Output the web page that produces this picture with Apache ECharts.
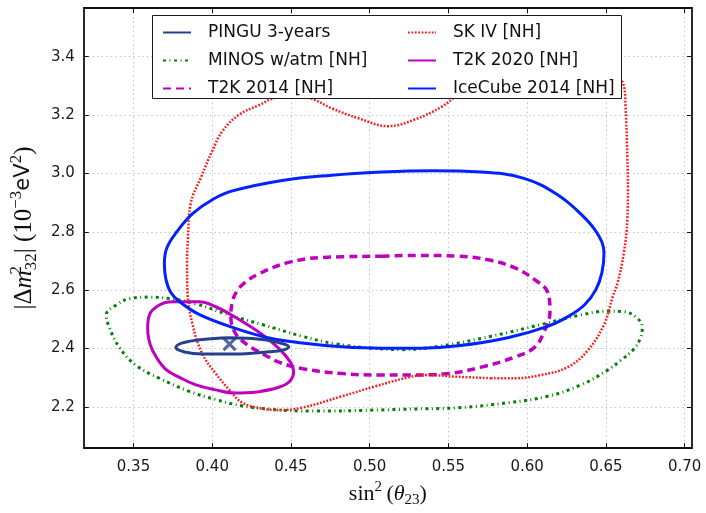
<!DOCTYPE html>
<html>
<head>
<meta charset="utf-8">
<script src="https://cdn.jsdelivr.net/npm/echarts@6/dist/echarts.min.js"></script>
<style>
  html, body { margin: 0; padding: 0; background: #fff; }
  #chart { width: 706px; height: 513px; }
</style>
</head>
<body>
<div id="chart"></div>
<script>
// Axis ranges and tick positions
const xRange = [0.3184, 0.7047];
const yRange = [2.0585, 3.567];
const xTicks = [0.35, 0.40, 0.45, 0.50, 0.55, 0.60, 0.65, 0.70];
const yTicks = [2.2, 2.4, 2.6, 2.8, 3.0, 3.2, 3.4];

// Allowed-region contours, [sin^2(theta23), |dm^2_32| (1e-3 eV^2)]
const pingu = [[0.4107,2.437],[0.4317,2.431],[0.4444,2.417],[0.4486,2.406],[0.4444,2.394],[0.436,2.389],[0.4149,2.381],[0.3938,2.381],[0.3824,2.388],[0.3769,2.403],[0.3812,2.419],[0.3938,2.431]];
const pinguBest = [[0.411, 2.415]];

const minos = [[0.4823,2.186],[0.457,2.186],[0.436,2.192],[0.4191,2.203],[0.4022,2.225],[0.3854,2.253],[0.3664,2.298],[0.3516,2.342],[0.3411,2.403],[0.3348,2.47],[0.3327,2.515],[0.339,2.549],[0.3475,2.571],[0.3601,2.576],[0.3728,2.571],[0.3896,2.553],[0.4107,2.515],[0.4317,2.482],[0.457,2.442],[0.4779,2.416],[0.5013,2.401],[0.5203,2.396],[0.5456,2.409],[0.5772,2.442],[0.6088,2.482],[0.6341,2.515],[0.6509,2.528],[0.6614,2.526],[0.6699,2.504],[0.6731,2.47],[0.672,2.437],[0.6678,2.398],[0.6594,2.359],[0.6509,2.325],[0.6341,2.275],[0.613,2.236],[0.5877,2.214],[0.5561,2.197],[0.5245,2.192]];

const t2k2014 = [[0.5076,2.716],[0.5287,2.719],[0.5561,2.716],[0.5751,2.704],[0.5919,2.677],[0.6045,2.637],[0.613,2.593],[0.6145,2.526],[0.6109,2.459],[0.6045,2.403],[0.5919,2.37],[0.5708,2.336],[0.5498,2.314],[0.5245,2.309],[0.5076,2.309],[0.4823,2.314],[0.457,2.331],[0.4423,2.353],[0.436,2.37],[0.4254,2.402],[0.4191,2.426],[0.414,2.459],[0.4118,2.509],[0.4128,2.56],[0.4155,2.595],[0.4205,2.625],[0.4297,2.656],[0.4486,2.695],[0.4697,2.712]];

const skIV = [[0.5772,2.298],[0.5561,2.303],[0.535,2.309],[0.5245,2.301],[0.5034,2.27],[0.4823,2.236],[0.457,2.197],[0.4423,2.189],[0.4317,2.194],[0.4191,2.214],[0.4107,2.259],[0.4022,2.314],[0.3938,2.381],[0.3875,2.482],[0.3843,2.593],[0.384,2.693],[0.3846,2.777],[0.3862,2.894],[0.3932,2.991],[0.4001,3.078],[0.4065,3.145],[0.417,3.201],[0.4297,3.234],[0.44,3.259],[0.4507,3.264],[0.4613,3.259],[0.476,3.223],[0.4929,3.189],[0.5119,3.162],[0.5287,3.185],[0.5456,3.228],[0.5561,3.268],[0.574,3.312],[0.6024,3.342],[0.6341,3.349],[0.6543,3.336],[0.6611,3.306],[0.6625,3.228],[0.6636,3.061],[0.664,2.951],[0.6636,2.838],[0.6614,2.727],[0.6575,2.626],[0.6543,2.576],[0.6488,2.482],[0.6383,2.392],[0.6257,2.336],[0.6088,2.309],[0.5919,2.298]];

const t2k2020 = [[0.4297,2.252],[0.4149,2.247],[0.4014,2.259],[0.3896,2.275],[0.3799,2.299],[0.3698,2.332],[0.3622,2.392],[0.3597,2.432],[0.359,2.47],[0.3601,2.515],[0.3664,2.549],[0.3748,2.56],[0.3917,2.56],[0.4022,2.543],[0.4149,2.506],[0.4317,2.448],[0.4431,2.396],[0.4501,2.349],[0.4517,2.319],[0.4491,2.287],[0.4423,2.267]];

const icecube = [[0.5076,3.005],[0.5392,3.009],[0.5708,3.005],[0.598,2.983],[0.6193,2.927],[0.6341,2.861],[0.6446,2.794],[0.6488,2.727],[0.6475,2.66],[0.6435,2.6],[0.6365,2.55],[0.6262,2.51],[0.613,2.476],[0.5877,2.437],[0.5561,2.409],[0.5329,2.401],[0.5076,2.401],[0.4823,2.406],[0.457,2.419],[0.4362,2.436],[0.4147,2.469],[0.3919,2.516],[0.3793,2.56],[0.3736,2.593],[0.3706,2.637],[0.3696,2.69],[0.3712,2.745],[0.3775,2.8],[0.3875,2.862],[0.4,2.91],[0.4128,2.94],[0.4444,2.976],[0.476,2.994]];

const legendLeft = ['PINGU 3-years', 'MINOS w/atm [NH]', 'T2K 2014 [NH]'];
const legendRight = ['SK IV [NH]', 'T2K 2020 [NH]', 'IceCube 2014 [NH]'];

// Close each contour so the line returns to its start
function closed(pts) { return pts.concat([pts[0]]); }

function contour(name, pts, color, width, dash, z) {
  return {
    type: 'line', name: name, data: closed(pts),
    symbol: 'none', smooth: 0.4, z: z, silent: true,
    lineStyle: { color: color, width: width, type: dash || 'solid', cap: 'butt', join: 'round' },
    itemStyle: { color: color }
  };
}

const tickFont = { fontFamily: 'DejaVu Sans', fontSize: 15, color: '#1a1a1a' };
const frameLine = { show: true, onZero: false, lineStyle: { color: '#111', width: 1.8 } };
const gridLine = { show: true, lineStyle: { color: '#c4c4c4', width: 1, type: [1.5, 3] } };

function axis(pos, range, ticks, withLabels, fmt, margin) {
  return {
    type: 'value', position: pos, min: range[0], max: range[1],
    axisLine: frameLine,
    axisTick: { show: true, inside: true, length: 5, customValues: ticks, lineStyle: { color: '#111', width: 1 } },
    axisLabel: withLabels
      ? Object.assign({ show: true, customValues: ticks, margin: margin, formatter: fmt }, tickFont)
      : { show: false },
    splitLine: withLabels ? gridLine : { show: false }
  };
}

const serif = 'Liberation Serif';
function mathStyles(size, lh) {
  const small = Math.round(size * 0.68);
  return {
    r:   { fontFamily: serif, fontSize: size, lineHeight: lh, verticalAlign: 'middle', color: '#111' },
    i:   { fontFamily: serif, fontSize: size, lineHeight: lh, verticalAlign: 'middle', fontStyle: 'italic', color: '#111' },
    s:   { fontFamily: 'DejaVu Sans', fontSize: Math.round(size * 0.85), lineHeight: lh, verticalAlign: 'middle', color: '#111' },
    sup: { fontFamily: serif, fontSize: small, lineHeight: small, verticalAlign: 'top', color: '#111' },
    supz:{ fontFamily: serif, fontSize: small, lineHeight: small, verticalAlign: 'top', color: '#111', width: 0.1 },
    sub: { fontFamily: serif, fontSize: small, lineHeight: small, verticalAlign: 'bottom', color: '#111' }
  };
}

const chart = echarts.init(document.getElementById('chart'), null, { renderer: 'canvas' });

const xMain = axis('bottom', xRange, xTicks, true, v => v.toFixed(2), 12);
xMain.name = '{r|sin}{sup|2}{r|\u2009(}{i|θ}{sub|23}{r|)}';
xMain.nameLocation = 'middle';
xMain.nameGap = 22;
xMain.nameTextStyle = { rich: mathStyles(22, 28) };

const yMain = axis('left', yRange, yTicks, true, v => v.toFixed(1), 9);
yMain.name = '{r||Δ}{i|m}{supz|2}{sub|32}{r|| (10}{sup|−3}{s|eV}{sup|2}{r|)}';
yMain.nameLocation = 'middle';
yMain.nameRotate = 90;
yMain.nameGap = 31;
yMain.nameTextStyle = { rich: mathStyles(25, 32) };

const legendCommon = {
  orient: 'vertical', top: 24, padding: 0, itemGap: 11,
  itemWidth: 28, itemHeight: 14, z: 20, selectedMode: false,
  itemStyle: { opacity: 0 },
  textStyle: { fontFamily: 'DejaVu Sans', fontSize: 17, color: '#111', padding: [0, 0, 0, 12] }
};

chart.setOption({
  animation: false,
  backgroundColor: '#fff',
  grid: { left: 81, right: 14, top: 8, bottom: 54, containLabel: false },
  xAxis: [xMain, axis('top', xRange, xTicks, false)],
  yAxis: [yMain, axis('right', yRange, yTicks, false)],
  legend: [
    Object.assign({ left: 162, data: legendLeft }, legendCommon),
    Object.assign({ left: 407, data: legendRight }, legendCommon)
  ],
  graphic: [{
    type: 'rect', z: 15, silent: true,
    shape: { x: 152.5, y: 15.5, width: 469, height: 83 },
    style: { fill: '#fff', stroke: '#1a1a1a', lineWidth: 1 }
  }],
  series: [
    contour('PINGU 3-years', pingu, '#273f8f', 3, null, 9),
    contour('MINOS w/atm [NH]', minos, '#008000', 3, [3, 3.5, 1, 3.5], 3),
    contour('T2K 2014 [NH]', t2k2014, '#bf00bf', 3.5, [8, 5], 4),
    contour('SK IV [NH]', skIV, '#ff1a1a', 2.5, [1.8, 1.6], 5),
    contour('T2K 2020 [NH]', t2k2020, '#bf00bf', 3, null, 6),
    contour('IceCube 2014 [NH]', icecube, '#0022ff', 3, null, 7),
    {
      type: 'scatter', name: 'PINGU best fit', data: pinguBest, z: 10, silent: true,
      symbol: 'path://M0,0L10,10M10,0L0,10', symbolSize: 12,
      itemStyle: { color: 'rgba(0,0,0,0)', borderColor: '#273f8f', borderWidth: 3 }
    }
  ]
});
</script>
</body>
</html>
